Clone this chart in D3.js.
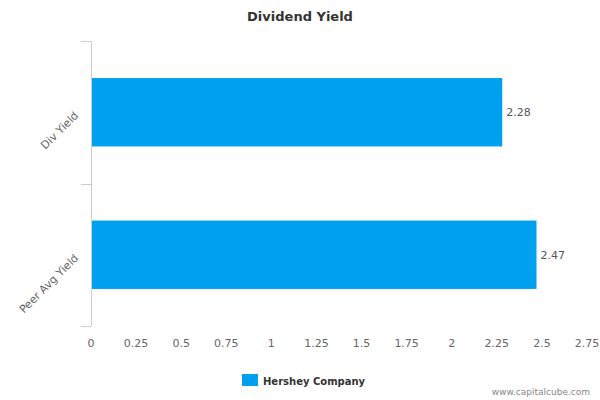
<!DOCTYPE html>
<html lang="en">
<head>
<meta charset="utf-8">
<script src="https://d3js.org/d3.v7.min.js"></script>
<style>body{margin:0;font-family:"DejaVu Sans",Verdana,sans-serif;}</style>
</head>
<body>
<div id="chart"></div>
<script>
// chart data
var categories = ["Div Yield", "Peer Avg Yield"];
var values = [2.28, 2.47];
var ticks = [0, 0.25, 0.5, 0.75, 1, 1.25, 1.5, 1.75, 2, 2.25, 2.5, 2.75];
var seriesName = "Hershey Company";

var W = 600, H = 400;
var plotLeft = 91, plotRight = 587, plotTop = 41, plotBottom = 326;
var color = "#00a0f0";

var svg = d3.select("#chart").append("svg")
	.attr("width", W).attr("height", H);

// title
svg.append("text")
	.attr("x", W / 2).attr("y", 21)
	.attr("text-anchor", "middle")
	.style("font-size", "13px").style("font-weight", "bold").style("fill", "#333")
	.text("Dividend Yield");

var x = d3.scaleLinear().domain([0, 2.75]).range([plotLeft, plotRight]);
var y = d3.scaleBand().domain(categories).range([plotTop, plotBottom]).paddingInner(0.52).paddingOuter(0.26);

// left axis line and category ticks
svg.append("line")
	.attr("x1", plotLeft + 0.5).attr("x2", plotLeft + 0.5).attr("y1", plotTop).attr("y2", plotBottom)
	.style("stroke", "#ccc");
var bounds = [plotTop, (plotTop + plotBottom) / 2, plotBottom];
svg.selectAll(".ytick").data(bounds).enter().append("line")
	.attr("x1", plotLeft - 10).attr("x2", plotLeft)
	.attr("y1", function (d) { return Math.round(d) + 0.5; })
	.attr("y2", function (d) { return Math.round(d) + 0.5; })
	.style("stroke", "#ccc");

// category labels
svg.selectAll(".cat").data(categories).enter().append("text")
	.attr("transform", function (d) {
		return "translate(" + (plotLeft - 12) + "," + (y(d) + y.bandwidth() / 2 + 4) + ") rotate(-45)";
	})
	.attr("text-anchor", "end")
	.style("font-size", "11px").style("fill", "#666")
	.text(function (d) { return d; });

// x tick labels
svg.selectAll(".xt").data(ticks).enter().append("text")
	.attr("x", function (d) { return x(d); }).attr("y", 347)
	.attr("text-anchor", "middle")
	.style("font-size", "11px").style("fill", "#666")
	.text(function (d) { return d; });

// bars
svg.selectAll(".bar").data(values).enter().append("rect")
	.attr("x", x(0) + 1)
	.attr("y", function (d, i) { return y(categories[i]); })
	.attr("width", function (d) { return x(d) - x(0) - 1; })
	.attr("height", y.bandwidth())
	.style("fill", color);

// value labels
svg.selectAll(".val").data(values).enter().append("text")
	.attr("x", function (d) { return x(d) + 4; })
	.attr("y", function (d, i) { return y(categories[i]) + y.bandwidth() / 2 + 4; })
	.style("font-size", "11px").style("fill", "#555")
	.text(function (d) { return d; });

// legend
svg.append("rect").attr("x", 242).attr("y", 374).attr("width", 16).attr("height", 12).style("fill", color);
svg.append("text").attr("x", 263).attr("y", 385)
	.style("font-size", "10px").style("font-weight", "bold").style("fill", "#333")
	.text(seriesName);

// watermark
svg.append("text").attr("x", 590).attr("y", 395).attr("text-anchor", "end")
	.style("font-size", "9px").style("fill", "#888")
	.text("www.capitalcube.com");
</script>
</body>
</html>
